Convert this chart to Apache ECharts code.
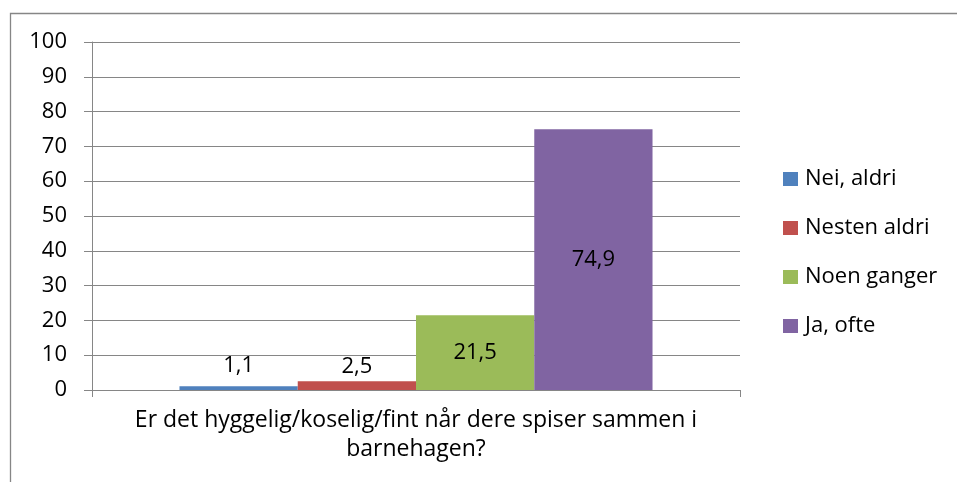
<!DOCTYPE html>
<html>
<head>
<meta charset="utf-8">
<script src="https://cdn.jsdelivr.net/npm/echarts@6/dist/echarts.min.js"></script>
<style>
  html, body { margin: 0; padding: 0; background: #fff; }
  #main { width: 957px; height: 482px; }
</style>
</head>
<body>
<div id="main"></div>
<script>
// data
var categories = ['Er det hyggelig/koselig/fint når dere spiser sammen i\nbarnehagen?'];
var seriesNames = ['Nei, aldri', 'Nesten aldri', 'Noen ganger', 'Ja, ofte'];
var seriesValues = [1.1, 2.5, 21.5, 74.9];
var seriesColors = ['#4F81BD', '#C0504D', '#9BBB59', '#8064A2'];
var yTicks = { min: 0, max: 100, interval: 10 };

var FONT = 'Open Sans';
var myChart = echarts.init(document.getElementById('main'));

function fmt(v) {
  return String(v).replace('.', ',');
}

var series = seriesNames.map(function (name, i) {
  var small = seriesValues[i] < 5;
  return {
    name: name,
    type: 'bar',
    barGap: 0,
    barCategoryGap: '27%',
    itemStyle: { color: seriesColors[i] },
    label: {
      show: true,
      position: small ? 'top' : 'inside',
      distance: small ? (seriesValues[i] < 2 ? 9 : 4) : 5,
      color: '#000',
      fontFamily: FONT,
      fontSize: 22,
      formatter: function (p) { return fmt(p.value); }
    },
    data: [seriesValues[i]]
  };
});

var option = {
  backgroundColor: '#fff',
  animation: false,
  graphic: [{
    type: 'rect',
    shape: { x: 10.5, y: 13.5, width: 1000, height: 600 },
    style: { fill: 'none', stroke: '#868686', lineWidth: 1.3 },
    silent: true
  }],
  grid: { left: 92, right: 217, top: 42, bottom: 92 },
  legend: {
    orient: 'vertical',
    left: 783,
    top: 168,
    padding: 0,
    itemWidth: 15,
    itemHeight: 14,
    itemGap: 27,
    icon: 'rect',
    textStyle: { fontFamily: FONT, fontSize: 22, color: '#000', lineHeight: 22, padding: [0, 0, 0, 2] },
    data: seriesNames
  },
  xAxis: {
    type: 'category',
    data: categories,
    axisLine: { show: true, lineStyle: { color: '#868686', width: 1 } },
    axisTick: { show: true, length: 7, lineStyle: { color: '#868686' } },
    axisLabel: {
      color: '#000',
      fontFamily: FONT,
      fontSize: 23,
      lineHeight: 29,
      margin: 16,
      align: 'center'
    },
    splitLine: { show: false }
  },
  yAxis: {
    type: 'value',
    min: yTicks.min,
    max: yTicks.max,
    interval: yTicks.interval,
    axisLine: { show: true, lineStyle: { color: '#868686', width: 1 } },
    axisTick: { show: true, length: 8, lineStyle: { color: '#868686' } },
    axisLabel: { color: '#000', fontFamily: FONT, fontSize: 22, margin: 25 },
    splitLine: { show: true, lineStyle: { color: '#868686', width: 1 } }
  },
  series: series
};

myChart.setOption(option);
</script>
</body>
</html>
